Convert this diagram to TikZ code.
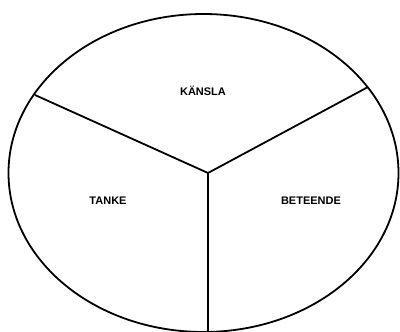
\documentclass[tikz,border=0pt]{standalone}
\usepackage{fontspec}
\setmainfont{Liberation Sans}
\begin{document}
\begin{tikzpicture}[x=1pt,y=-1pt,
  lineblk/.style={draw=black,line width=1.8pt},
  lbl/.style={font=\bfseries\fontsize{11}{13}\selectfont,inner sep=0pt}]
\useasboundingbox (0,0) rectangle (400,332);
\clip (0,0) rectangle (400,332);
\coordinate (ec) at (203.5,173);
\coordinate (hub) at (208,173);
\coordinate (lt) at (35,95);
\coordinate (rt) at (368,87);
\coordinate (bt) at (208,340);
\draw[lineblk] (ec) ellipse [x radius=195, y radius=159];
\draw[lineblk] (lt) -- (hub) -- (rt);
\draw[lineblk] (hub) -- (bt);
\node[lbl] (kansla) at (203,91) {KÄNSLA};
\node[lbl] (tanke) at (108,201) {TANKE};
\node[lbl] (beteende) at (311,201) {BETEENDE};
\end{tikzpicture}
\end{document}
